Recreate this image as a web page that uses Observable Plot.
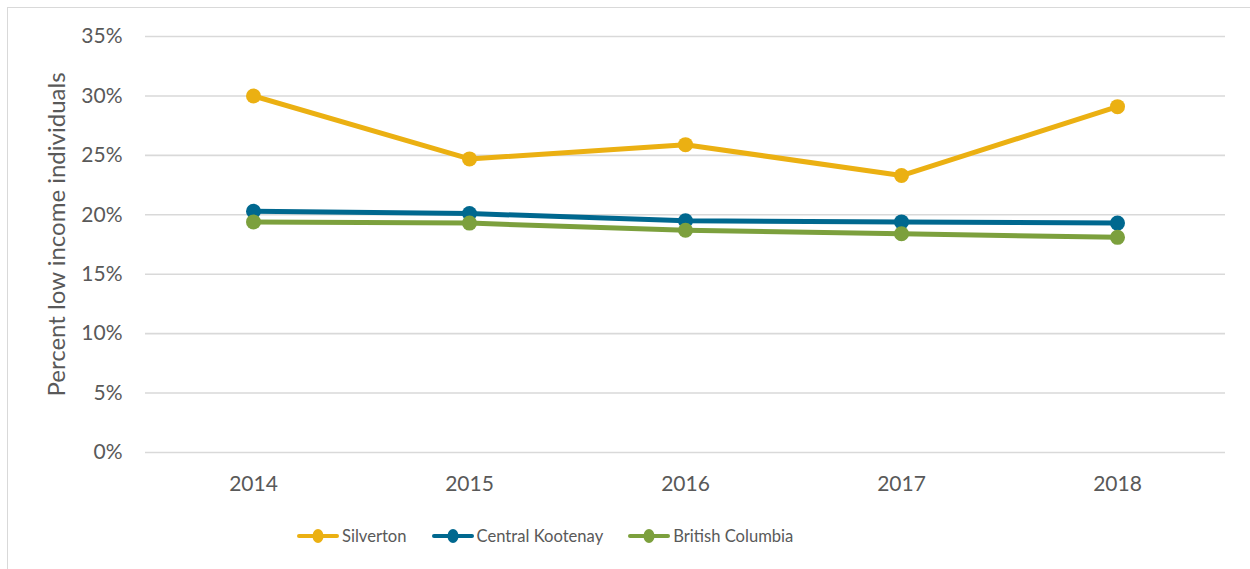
<!DOCTYPE html>
<html>
<head>
<meta charset="utf-8">
<script src="https://cdn.jsdelivr.net/npm/d3@7"></script>
<script src="https://cdn.jsdelivr.net/npm/@observablehq/plot@0.6"></script>
<style>
  html, body { margin: 0; padding: 0; background: #fff; overflow: hidden; }
  #frame { position: absolute; left: 7px; top: 7px; width: 1300px; height: 620px; border: 1.5px solid #d9d9d9; box-sizing: border-box; pointer-events: none; }
  #chart { position: absolute; left: 0; top: 0; width: 1250px; }
  #legend { display: flex; align-items: center; height: 52px; padding-left: 297px; font-family: Lato, "Open Sans", sans-serif; font-size: 16.6px; color: #595959; }
  .item { display: flex; align-items: center; margin-right: 25px; }
  .item svg { margin-right: 3px; }
</style>
</head>
<body>
<div id="chart"></div>
<div id="frame"></div>
<script>
const years = ["2014", "2015", "2016", "2017", "2018"];
const seriesNames = ["Silverton", "Central Kootenay", "British Columbia"];
const silverton = [30.0, 24.7, 25.9, 23.3, 29.1];
const centralKootenay = [20.3, 20.1, 19.5, 19.4, 19.3];
const britishColumbia = [19.4, 19.3, 18.7, 18.4, 18.1];
const seriesColors = ["#EBB012", "#00688F", "#7CA03D"];
const yTicks = [0, 5, 10, 15, 20, 25, 30, 35];
const yTitle = "Percent low income individuals";

const seriesValues = [silverton, centralKootenay, britishColumbia];
const data = seriesNames.flatMap((s, i) => years.map((yr, j) => ({series: s, year: yr, value: seriesValues[i][j]})));

const chart = Plot.plot({
  width: 1250,
  height: 510,
  marginLeft: 145,
  marginRight: 25,
  marginTop: 36,
  marginBottom: 58,
  style: {fontFamily: "Lato, 'Open Sans', sans-serif", color: "#595959", background: "#fff"},
  x: {type: "point", domain: years, padding: 0.5},
  y: {domain: [0, 35]},
  color: {domain: seriesNames, range: seriesColors},
  marks: [
    Plot.gridY(yTicks, {stroke: "#d9d9d9", strokeOpacity: 1, strokeWidth: 1.6}),
    Plot.axisY(yTicks, {tickSize: 0, tickPadding: 23, tickFormat: d => d + "%", fontSize: 21, label: null, fill: "#595959"}),
    Plot.axisX(years, {tickSize: 0, tickPadding: 24, fontSize: 21, label: null, fill: "#595959"}),
    Plot.text([yTitle], {frameAnchor: "left", textAnchor: "middle", lineAnchor: "middle", rotate: -90, dx: -88, dy: -10, fontSize: 24, fill: "#595959"}),
    Plot.line(data, {x: "year", y: "value", z: "series", stroke: "series", strokeWidth: 5, curve: "linear"}),
    Plot.dot(data, {x: "year", y: "value", fill: "series", r: 7.5, stroke: null})
  ]
});
document.getElementById("chart").appendChild(chart);

const legend = document.createElement("div");
legend.id = "legend";
seriesNames.forEach((name, i) => {
  const item = document.createElement("div");
  item.className = "item";
  item.innerHTML = `<svg width="42" height="16"><line x1="2" x2="40" y1="8" y2="8" stroke="${seriesColors[i]}" stroke-width="4" stroke-linecap="round"/><ellipse cx="21" cy="8" rx="5.5" ry="7" fill="${seriesColors[i]}"/></svg><span>${name}</span>`;
  legend.appendChild(item);
});
document.getElementById("chart").appendChild(legend);
</script>
</body>
</html>
